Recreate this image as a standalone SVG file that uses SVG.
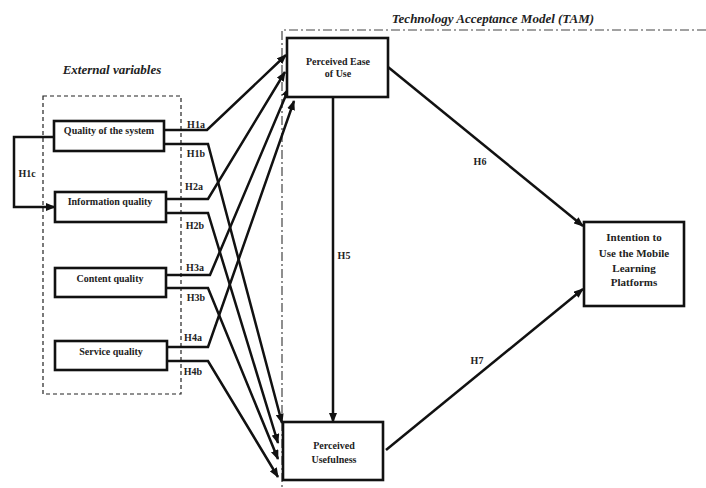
<svg xmlns="http://www.w3.org/2000/svg" width="706" height="488" viewBox="0 0 706 488">
<style>
.box{fill:#fff;stroke:#111;stroke-width:2.6}
.t{font-family:"Liberation Serif","Times New Roman",serif;font-weight:bold;fill:#222;text-anchor:middle}
.n{font-size:10px}
.big{font-size:11px}
.h{font-size:10px}
.title{font-size:13px;font-style:italic}
.c{fill:none;stroke:#111;stroke-width:2.5;marker-end:url(#ah)}
</style>
<defs>
<marker id="ah" markerUnits="userSpaceOnUse" markerWidth="10" markerHeight="8" refX="9" refY="4" orient="auto">
<path d="M0,0 L10,4 L0,8 z" fill="#111"/>
</marker>
</defs>
<rect width="706" height="488" fill="#fff"/>
<g id="frames">
<rect x="43" y="96" width="138" height="298" fill="none" stroke="#222" stroke-width="1.2" stroke-dasharray="4,3"/>
<path d="M706,30 H282 V488" fill="none" stroke="#444" stroke-width="1.2" stroke-dasharray="9,3,2,3"/>
<text class="t title" x="112" y="74">External variables</text>
<text class="t title" x="493" y="23">Technology Acceptance Model (TAM)</text>
</g>
<g id="connectors">
<path class="c" d="M164,130 H207 L286,55"/>
<path class="c" d="M164,144 H208 L282,423"/>
<path class="c" d="M166,199 H208 L285,72"/>
<path class="c" d="M166,213 H208 L278,443"/>
<path class="c" d="M166,275 H210 L289,88"/>
<path class="c" d="M166,288 H208 L278,459"/>
<path class="c" d="M167,347 H208 L294,101"/>
<path class="c" d="M167,361 H208 L278,477"/>
<path class="c" d="M54,137 H14 V207 H55"/>
<path class="c" d="M333,97 V422"/>
<path class="c" d="M388,67 L583,226"/>
<path class="c" d="M386,450 L583,289"/>
<text class="t h" x="196" y="128">H1a</text>
<text class="t h" x="196" y="157">H1b</text>
<text class="t h" x="194" y="190">H2a</text>
<text class="t h" x="195" y="229">H2b</text>
<text class="t h" x="195" y="271">H3a</text>
<text class="t h" x="196" y="301">H3b</text>
<text class="t h" x="193" y="341">H4a</text>
<text class="t h" x="193" y="375">H4b</text>
<text class="t h" x="27" y="177">H1c</text>
<text class="t h" x="344" y="259">H5</text>
<text class="t h" x="480" y="165">H6</text>
<text class="t h" x="477" y="364">H7</text>
</g>
<g id="quality-system">
<rect class="box" x="54" y="121" width="110" height="30"/>
<text class="t n" x="109" y="134">Quality of the system</text>
</g>
<g id="information-quality">
<rect class="box" x="55" y="192" width="111" height="30"/>
<text class="t n" x="110" y="205">Information quality</text>
</g>
<g id="content-quality">
<rect class="box" x="55" y="268" width="111" height="29"/>
<text class="t n" x="110" y="282">Content quality</text>
</g>
<g id="service-quality">
<rect class="box" x="55" y="341" width="112" height="29"/>
<text class="t n" x="111" y="355">Service quality</text>
</g>
<g id="peou">
<rect class="box" x="287" y="38" width="101" height="59"/>
<text class="t n" x="338" y="65">Perceived Ease</text>
<text class="t n" x="338" y="77">of Use</text>
</g>
<g id="pu">
<rect class="box" x="283" y="422" width="100" height="58"/>
<text class="t n" x="334" y="449">Perceived</text>
<text class="t n" x="334" y="463">Usefulness</text>
</g>
<g id="intention">
<rect class="box" x="584" y="222" width="100" height="84"/>
<text class="t big" x="634" y="241">Intention to</text>
<text class="t big" x="634" y="257">Use the Mobile</text>
<text class="t big" x="634" y="272">Learning</text>
<text class="t big" x="634" y="286">Platforms</text>
</g>
</svg>
